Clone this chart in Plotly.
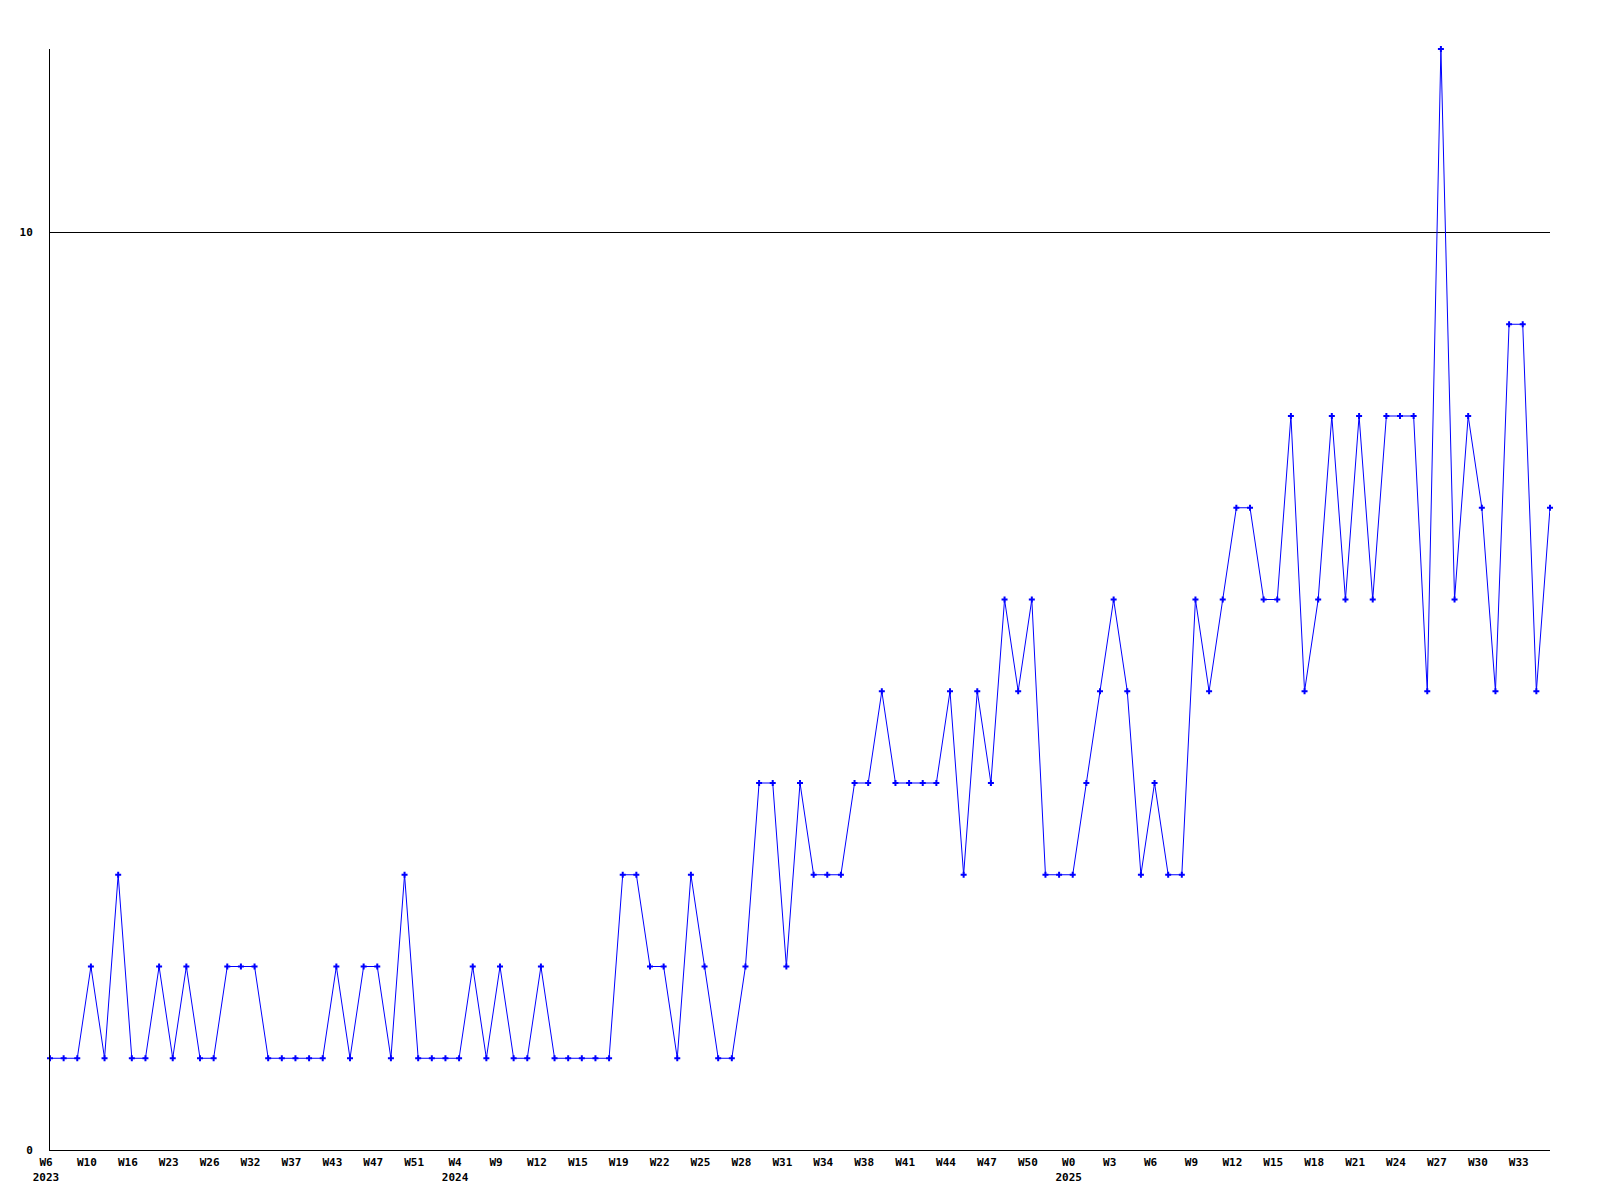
import plotly.graph_objects as go

# Weekly counts (one point per period)
values = [
    1, 1, 1, 2, 1, 3, 1, 1, 2, 1,
    2, 1, 1, 2, 2, 2, 1, 1, 1, 1,
    1, 2, 1, 2, 2, 1, 3, 1, 1, 1,
    1, 2, 1, 2, 1, 1, 2, 1, 1, 1,
    1, 1, 3, 3, 2, 2, 1, 3, 2, 1,
    1, 2, 4, 4, 2, 4, 3, 3, 3, 4,
    4, 5, 4, 4, 4, 4, 5, 3, 5, 4,
    6, 5, 6, 3, 3, 3, 4, 5, 6, 5,
    3, 4, 3, 3, 6, 5, 6, 7, 7, 6,
    6, 8, 5, 6, 8, 6, 8, 6, 8, 8,
    8, 5, 12, 6, 8, 7, 5, 9, 9, 5,
    7,
]
positions = list(range(len(values)))

# Tick labels, one every third point
tick_weeks = [
    "W6", "W10", "W16", "W23", "W26", "W32", "W37", "W43", "W47", "W51",
    "W4", "W9", "W12", "W15", "W19", "W22", "W25", "W28", "W31", "W34",
    "W38", "W41", "W44", "W47", "W50", "W0", "W3", "W6", "W9", "W12",
    "W15", "W18", "W21", "W24", "W27", "W30", "W33",
]
tick_years = {0: "2023", 10: "2024", 25: "2025"}
tick_step = 3

tick_vals = [positions[i * tick_step] for i in range(len(tick_weeks))]
tick_text = [
    w + ("<br>" + tick_years[i] if i in tick_years else "")
    for i, w in enumerate(tick_weeks)
]

y_tick_vals = [0, 10]
y_tick_text = ["0", "10"]

font = dict(family="DejaVu Sans Mono", size=11, color="black", weight="bold")

fig = go.Figure()
fig.add_trace(go.Scatter(
    x=positions,
    y=values,
    mode="lines+markers",
    line=dict(color="#0000FF", width=1),
    marker=dict(symbol="cross", size=5, color="#0000FF", line=dict(width=0)),
    cliponaxis=False,
    showlegend=False,
    hoverinfo="x+y",
))

# the page body has an 8px margin, so the figure starts at (8, 8)
fig.update_layout(
    width=1584,
    height=1184,
    margin=dict(l=42, r=42, t=41, b=42),
    paper_bgcolor="white",
    plot_bgcolor="white",
    font=font,
    xaxis=dict(
        range=[0, len(values) - 1],
        tickmode="array",
        tickvals=tick_vals,
        ticktext=tick_text,
        tickfont=font,
        ticks="",
        showgrid=False,
        zeroline=False,
        showline=True,
        linecolor="black",
        linewidth=1,
        ticklabelshift=-4,
        ticklabelstandoff=2,
        automargin=False,
    ),
    yaxis=dict(
        range=[0, 12],
        tickmode="array",
        tickvals=y_tick_vals,
        ticktext=y_tick_text,
        tickfont=font,
        ticks="",
        showgrid=True,
        gridcolor="black",
        gridwidth=1,
        zeroline=False,
        showline=True,
        linecolor="black",
        linewidth=1,
        ticklabelstandoff=14,
        automargin=False,
    ),
)

fig.write_html("out.html")
